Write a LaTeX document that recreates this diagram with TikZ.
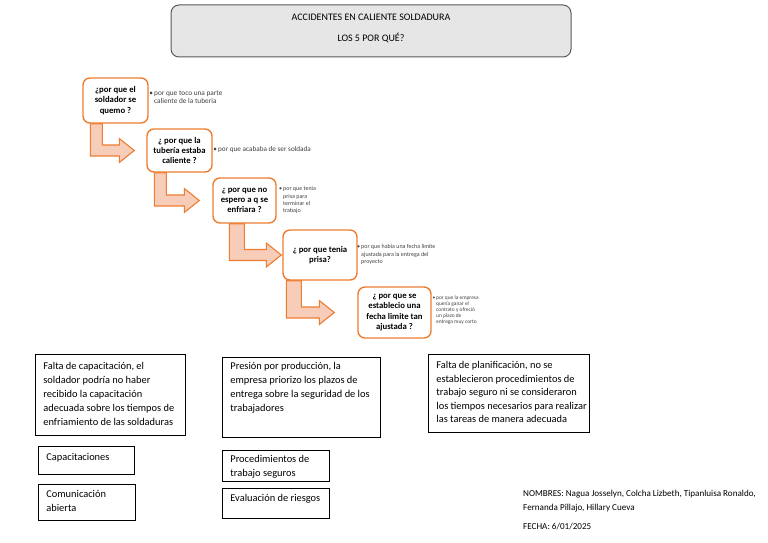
\documentclass[tikz,border=0pt]{standalone}
\usepackage{fontspec}
\setmainfont{Carlito}
\usetikzlibrary{calc,backgrounds}
\definecolor{orng}{HTML}{ED7D31}
\definecolor{arrfill}{HTML}{F7CDB9}
\definecolor{titlefill}{HTML}{E7E6E6}
\definecolor{titledraw}{HTML}{595959}
\definecolor{bulcol}{HTML}{404040}
\newcommand{\bentarr}[5]{%
  \path[bentarrow] let \p1=(#1.south west), \p2=(#2.west) in
    (\x1+#3pt,\y1) -- (\x1+#3pt+#4pt,\y1) -- (\x1+#3pt+#4pt,\y2+5.5pt)
    -- (\x2-#5pt-15pt,\y2+5.5pt) -- (\x2-#5pt-15pt,\y2+12pt) -- (\x2-#5pt,\y2)
    -- (\x2-#5pt-15pt,\y2-12pt) -- (\x2-#5pt-15pt,\y2-5.5pt) -- (\x1+#3pt,\y2-5.5pt) -- cycle;}
\newcommand{\causetext}[4]{\parbox[t][#2][t]{#1}{\raggedright\vspace*{#3}#4}}
\begin{document}
\begin{tikzpicture}[x=1pt,y=-1pt,
  titlebox/.style={draw=titledraw, fill=titlefill, line width=1pt, rounded corners=8pt,
    align=center, font=\fontsize{10}{21}\selectfont, text depth=7pt,
    minimum width=400pt, minimum height=52pt, inner sep=0pt},
  qbox/.style={draw=orng, fill=white, line width=1.4pt, rounded corners=7pt, align=center,
    font=\bfseries\fontsize{8.7}{10.2}\selectfont, inner sep=0pt},
  bentarrow/.style={draw=orng, fill=arrfill, line width=1.1pt, line join=miter},
  bul/.style={anchor=north west, align=left, inner sep=0pt, text=bulcol},
  cause/.style={draw=black, line width=0.8pt, anchor=north west, inner xsep=8pt, inner ysep=5pt,
    font=\fontsize{10.4}{14}\selectfont},
  info/.style={anchor=north west, align=left, inner sep=0pt, font=\fontsize{9.1}{14}\selectfont}]
\useasboundingbox (0,0) rectangle (768,543);

% title
\node[titlebox] (title) at (371,31) {ACCIDENTES EN CALIENTE SOLDADURA\\LOS 5 POR QUÉ?};

% question boxes
\node[qbox, minimum width=65pt, minimum height=45pt] (q1) at (115.5,100.5) {¿por que el\\soldador se\\quemo ?};
\node[qbox, minimum width=65pt, minimum height=43pt] (q2) at (179.5,150.5) {¿ por que la\\tubería estaba\\caliente ?};
\node[qbox, minimum width=63pt, minimum height=45pt] (q3) at (244.5,200.5) {¿ por que no\\espero a q se\\enfriara ?};
\node[qbox, minimum width=74pt, minimum height=50pt] (q4) at (320,255) {¿ por que tenia\\prisa?};
\node[qbox, minimum width=73pt, minimum height=51pt] (q5) at (394.5,312.5) {¿ por que se\\establecio una\\fecha limite tan\\ajustada ?};

% bent arrows
\begin{pgfonlayer}{background}
\bentarr{q1}{q2}{8}{12}{12}
\bentarr{q2}{q3}{8}{12}{13}
\bentarr{q3}{q4}{17}{15}{1}
\bentarr{q4}{q5}{4}{15}{23}
\end{pgfonlayer}

% answers
\node[bul, font=\fontsize{7.3}{8}\selectfont] (b1) at (154,91) {\llap{\textbullet\,}por que toco una parte\\caliente de la tuberia};
\node[bul, font=\fontsize{7.2}{8}\selectfont] (b2) at (218,146.5) {\llap{\textbullet\,}por que acababa de ser soldada};
\node[bul, font=\fontsize{6}{7.3}\selectfont] (b3) at (283,186.5) {\llap{\textbullet\,}por que tenia\\prisa para\\terminar el\\trabajo};
\node[bul, font=\fontsize{6}{7.2}\selectfont] (b4) at (361,244.5) {\llap{\textbullet\,}por que habia una fecha limite\\ajustada para la entrega del\\proyecto};
\node[bul, font=\fontsize{5.4}{6}\selectfont] (b5) at (436,296) {\llap{\textbullet\,}por que la empresa\\quería ganar el\\contrato y ofreció\\un plazo de\\entrega muy corto};

% causes
\node[cause] (c1) at (35,354) {\causetext{134pt}{71pt}{3pt}{Falta de capacitación, el\\soldador podría no haber\\recibido la capacitación\\adecuada sobre los tiempos de\\enfriamiento de las soldaduras}};
\node[cause] (c2) at (222,357) {\causetext{142pt}{70pt}{0pt}{Presión por producción, la\\empresa priorizo los plazos de\\entrega sobre la seguridad de los\\trabajadores}};
\node[cause, font=\fontsize{10.4}{13.5}\selectfont] (c3) at (428,354) {\causetext{145pt}{68pt}{2pt}{Falta de planificación, no se\\establecieron procedimientos de\\\mbox{trabajo seguro ni se consideraron}\\\mbox{los tiempos necesarios para realizar}\\las tareas de manera adecuada}};

% actions
\node[cause] (d1) at (38,446) {\causetext{80pt}{18pt}{2pt}{Capacitaciones}};
\node[cause] (d2) at (38,484) {\causetext{81pt}{26pt}{1pt}{Comunicación\\abierta}};
\node[cause] (d3) at (222,450) {\causetext{91pt}{21pt}{0pt}{Procedimientos de\\trabajo seguros}};
\node[cause] (d4) at (222,488) {\causetext{91pt}{20pt}{1pt}{Evaluación de riesgos}};

% info
\node[info] (names) at (523,490) {NOMBRES: Nagua Josselyn, Colcha Lizbeth, Tipanluisa Ronaldo,\\Fernanda Pillajo, Hillary Cueva\\[5pt]FECHA: 6/01/2025};
\end{tikzpicture}
\end{document}
